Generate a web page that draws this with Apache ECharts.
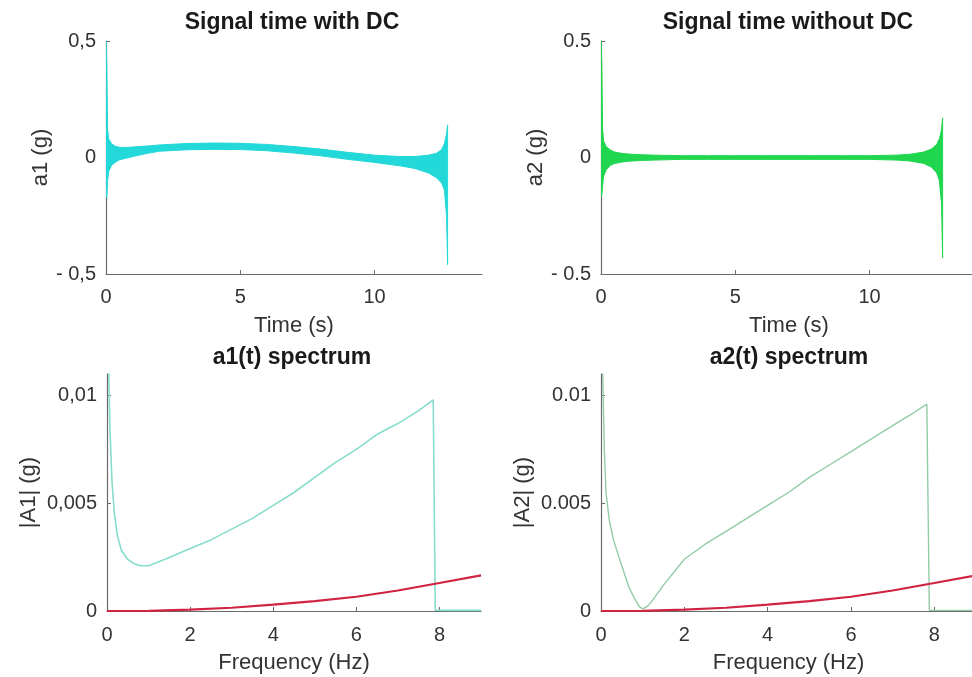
<!DOCTYPE html>
<html>
<head>
<meta charset="utf-8">
<title>Signal and spectrum</title>
<script src="https://cdn.jsdelivr.net/npm/echarts@6/dist/echarts.min.js"></script>
<style>
html, body { margin: 0; padding: 0; background: #fff; }
#main { width: 972px; height: 677px; }
</style>
</head>
<body>
<div id="main"></div>
<script>
// time signal envelopes (upper / lower edge of the dense oscillation)
var tSig = [0, 0.03, 0.06, 0.1, 0.2, 0.35, 0.5, 0.75, 1, 1.5, 2, 3, 4, 5, 6, 7, 8, 9, 10, 11, 11.5, 12, 12.3, 12.5, 12.6, 12.68, 12.72];
var a1Up = [0.5, 0.4, 0.12, 0.08, 0.06, 0.048, 0.044, 0.043, 0.045, 0.049, 0.054, 0.06, 0.062, 0.061, 0.056, 0.047, 0.036, 0.022, 0.01, 0.004, 0.004, 0.01, 0.018, 0.034, 0.06, 0.1, 0.14];
var a1Lo = [-0.17, -0.17, -0.1, -0.06, -0.035, -0.02, -0.01, -0.003, 0.004, 0.017, 0.027, 0.033, 0.035, 0.034, 0.029, 0.019, 0.007, -0.008, -0.021, -0.037, -0.047, -0.066, -0.086, -0.11, -0.14, -0.25, -0.46];
var a2Up = [0.5, 0.4, 0.12, 0.07, 0.046, 0.032, 0.024, 0.018, 0.015, 0.012, 0.01, 0.008, 0.008, 0.008, 0.008, 0.008, 0.008, 0.008, 0.008, 0.01, 0.014, 0.023, 0.036, 0.056, 0.08, 0.12, 0.17];
var a2Lo = [-0.17, -0.16, -0.12, -0.08, -0.052, -0.034, -0.026, -0.02, -0.016, -0.013, -0.011, -0.008, -0.008, -0.008, -0.008, -0.008, -0.008, -0.008, -0.008, -0.011, -0.015, -0.025, -0.041, -0.066, -0.1, -0.2, -0.43];

// spectra
var fA1 = [0.03, 0.07, 0.12, 0.18, 0.25, 0.35, 0.5, 0.65, 0.8, 1.0, 1.4, 2.0, 2.5, 3.0, 3.5, 4.0, 4.5, 5.0, 5.5, 6.0, 6.5, 7.0, 7.5, 7.85, 7.9, 8.2, 9];
var A1 = [0.012, 0.0085, 0.006, 0.0045, 0.0035, 0.0028, 0.0024, 0.0022, 0.0021, 0.0021, 0.0024, 0.0029, 0.0033, 0.0038, 0.0043, 0.0049, 0.0055, 0.0062, 0.0069, 0.0075, 0.0082, 0.0087, 0.0093, 0.0098, 0.00004, 0.00003, 0.00003];
var fA2 = [0.03, 0.08, 0.12, 0.2, 0.3, 0.43, 0.55, 0.67, 0.8, 0.92, 1.0, 1.1, 1.2, 1.5, 2.0, 2.5, 3.0, 3.5, 4.0, 4.5, 5.0, 5.5, 6.0, 6.5, 7.0, 7.5, 7.82, 7.88, 9];
var A2 = [0.012, 0.0075, 0.0055, 0.0042, 0.0033, 0.0025, 0.0018, 0.0011, 0.0006, 0.0002, 0.0001, 0.0002, 0.0004, 0.0012, 0.0024, 0.0031, 0.0037, 0.0043, 0.0049, 0.0055, 0.0062, 0.0068, 0.0074, 0.008, 0.0086, 0.0092, 0.0096, 0.00003, 0.00003];
var fRed = [0, 1, 2, 3, 4, 5, 6, 7, 8, 9];
var redVals = [0, 0.00001, 0.00006, 0.00015, 0.0003, 0.00046, 0.00066, 0.00095, 0.0013, 0.00165];

// ticks and labels
var tTicks = [0, 5, 10];
var sigTicks = [-0.5, 0, 0.5];
var sigLabelsL = ['- 0,5', '0', '0,5'];
var sigLabelsR = ['- 0.5', '0', '0.5'];
var fTicks = [0, 2, 4, 6, 8];
var specTicks = [0, 0.005, 0.01];
var specLabelsL = ['0', '0,005', '0,01'];
var specLabelsR = ['0', '0.005', '0.01'];

var FONT = 'Liberation Sans, Arial, sans-serif';
var AXC = '#6a6a6a';

function pairs(xs, ys) {
  var out = [];
  for (var i = 0; i < xs.length; i++) out.push([xs[i], ys[i]]);
  return out;
}

function xAxis(idx, max, ticks, name, margin, gap) {
  return {
    type: 'value', gridIndex: idx, min: 0, max: max,
    name: name, nameLocation: 'middle', nameGap: gap,
    nameTextStyle: { fontSize: 22, color: '#333', fontFamily: FONT },
    axisLine: { onZero: false, lineStyle: { color: AXC, width: 1.2 } },
    axisTick: { inside: true, length: 4, customValues: ticks, lineStyle: { color: AXC } },
    axisLabel: { customValues: ticks, margin: margin, fontSize: 20, color: '#333', fontFamily: FONT },
    splitLine: { show: false }
  };
}

function yAxis(idx, min, max, ticks, labels, name, gap) {
  return {
    type: 'value', gridIndex: idx, min: min, max: max,
    name: name, nameLocation: 'middle', nameGap: gap,
    nameTextStyle: { fontSize: 22, color: '#333', fontFamily: FONT },
    axisLine: { onZero: false, lineStyle: { color: AXC, width: 1.2 } },
    axisTick: { inside: true, length: 4, customValues: ticks, lineStyle: { color: AXC } },
    axisLabel: {
      customValues: ticks, margin: 10, fontSize: 20, color: '#333', fontFamily: FONT,
      formatter: function (v) {
        for (var i = 0; i < ticks.length; i++) if (Math.abs(ticks[i] - v) < 1e-9) return labels[i];
        return '';
      }
    },
    splitLine: { show: false }
  };
}

function band(idx, t, up, lo, color) {
  return {
    type: 'custom', xAxisIndex: idx, yAxisIndex: idx,
    data: [[t[0], up[0]]], clip: true, silent: true,
    renderItem: function (params, api) {
      var pts = [];
      for (var i = 0; i < t.length; i++) pts.push(api.coord([t[i], up[i]]));
      for (var j = t.length - 1; j >= 0; j--) pts.push(api.coord([t[j], lo[j]]));
      return {
        type: 'polygon', shape: { points: pts },
        style: { fill: color, stroke: color, lineWidth: 1 }
      };
    }
  };
}

function line(idx, xs, ys, color, width) {
  return {
    type: 'line', xAxisIndex: idx, yAxisIndex: idx, data: pairs(xs, ys),
    showSymbol: false, symbol: 'none', clip: true,
    lineStyle: { color: color, width: width }, itemStyle: { color: color }
  };
}

function title(x, y, text) {
  return {
    type: 'text', x: x, y: y,
    style: { text: text, textAlign: 'center', textVerticalAlign: 'middle', fill: '#1a1a1a', font: 'bold 23px ' + FONT }
  };
}

var chart = echarts.init(document.getElementById('main'), null, { renderer: 'canvas' });
chart.setOption({
  animation: false,
  backgroundColor: '#fff',
  graphic: [
    title(292, 23, 'Signal time with DC'),
    title(788, 23, 'Signal time without DC'),
    title(292, 358, 'a1(t) spectrum'),
    title(789, 358, 'a2(t) spectrum')
  ],
  grid: [
    { left: 106, top: 41, width: 376, height: 233, outerBoundsMode: 'none' },
    { left: 601, top: 41, width: 376, height: 233, outerBoundsMode: 'none' },
    { left: 107, top: 374, width: 374, height: 237, outerBoundsMode: 'none' },
    { left: 601, top: 374, width: 375, height: 237, outerBoundsMode: 'none' }
  ],
  xAxis: [
    xAxis(0, 14, tTicks, 'Time (s)', 13, 41),
    xAxis(1, 14, tTicks, 'Time (s)', 13, 41),
    xAxis(2, 9, fTicks, 'Frequency (Hz)', 14, 41),
    xAxis(3, 9, fTicks, 'Frequency (Hz)', 14, 41)
  ],
  yAxis: [
    yAxis(0, -0.5, 0.5, sigTicks, sigLabelsL, 'a1 (g)', 52),
    yAxis(1, -0.5, 0.5, sigTicks, sigLabelsR, 'a2 (g)', 52),
    yAxis(2, 0, 0.011, specTicks, specLabelsL, '|A1| (g)', 67),
    yAxis(3, 0, 0.011, specTicks, specLabelsR, '|A2| (g)', 67)
  ],
  series: [
    band(0, tSig, a1Up, a1Lo, '#22d8d8'),
    band(1, tSig, a2Up, a2Lo, '#20d64e'),
    line(2, fA1, A1, '#86ddcc', 1.6),
    line(2, fRed, redVals, '#cf2340', 2.2),
    line(3, fA2, A2, '#92cba6', 1.4),
    line(3, fRed, redVals, '#cf2340', 2.2)
  ]
});
</script>
</body>
</html>
